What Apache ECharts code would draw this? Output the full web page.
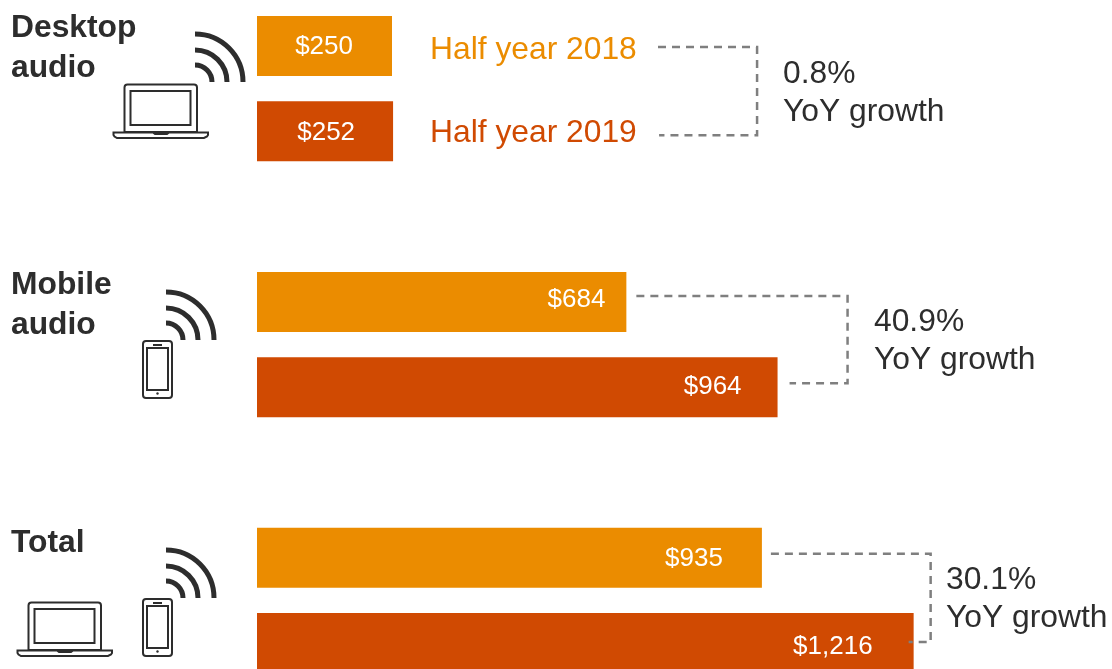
<!DOCTYPE html>
<html>
<head>
<meta charset="utf-8">
<style>html,body{margin:0;padding:0;background:#fff;overflow:hidden}#c{width:1112px;height:669px}</style>
<script src="https://cdn.jsdelivr.net/npm/echarts@6/dist/echarts.min.js"></script>
</head>
<body>
<div id="c"></div>
<script>
// ---------- data ----------
const categories = ['Desktop audio 2018', 'Desktop audio 2019', '', 'Mobile audio 2018', 'Mobile audio 2019', ' ', 'Total 2018', 'Total 2019'];
const values2018 = [250, null, null, 684, null, null, 935, null];
const values2019 = [null, 252, null, null, 964, null, null, 1216];
const seriesNames = ['Half year 2018', 'Half year 2019'];
const growthLabels = ['0.8%', '40.9%', '30.1%'];
const growthCaption = 'YoY growth';
const groupTitles = [['Desktop', 'audio'], ['Mobile', 'audio'], ['Total']];

// ---------- layout & style (pixels, separate from data) ----------
const ORANGE = '#EB8C00', RED = '#D04A02', INK = '#2D2D2D', DASH = '#7F7F7F';
const FONT = '"Liberation Sans", Arial, sans-serif';
const barLabelDistance = {0: 39, 1: 38, 3: 21, 4: 36, 6: 39, 7: 41};
const barLabelShift = {0: 1, 1: 2, 3: -2, 4: 0, 6: 1, 7: 4};
const connectors = [
  {rows: [0, 1], gaps: [266, 266], dy: [1, 4], bracket: 364},
  {rows: [3, 4], gaps: [10, 12], dy: [-6, -4], bracket: 70},
  {rows: [6, 7], gaps: [9, -5], dy: [-4, -1], bracket: 17}
];
const titleSpots = [[11, 28], [11, 285], [11, 543]];
const growthSpots = [[783, 74], [874, 322], [946, 580]];
const wifiSpots = [[195, 82], [166, 340], [166, 598]];
const laptopSpots = [[0, 0], [-96, 518]];
const phoneSpots = [[0, 0], [0, 258]];

function barData(values) {
  return values.map((v, i) => v === null ? null : ({
    value: v,
    label: {
      show: true,
      position: 'insideRight',
      distance: barLabelDistance[i],
      offset: [0, barLabelShift[i]],
      formatter: '$' + v.toLocaleString('en-US'),
      color: '#fff',
      fontSize: 26,
      fontFamily: FONT
    }
  }));
}

const text = (x, y, t, color, bold) => ({
  type: 'text', silent: true,
  style: {x, y, text: t, fill: color, fontFamily: FONT, fontSize: 31.8,
    fontWeight: bold ? 'bold' : 'normal', align: 'left', verticalAlign: 'middle'}
});
const line = {stroke: INK, lineWidth: 2, fill: 'none'};
const graphics = [];

// headings
groupTitles.forEach((lines, g) => lines.forEach((t, i) =>
  graphics.push(text(titleSpots[g][0], titleSpots[g][1] + i * 40, t, INK, true))));
// legend texts
graphics.push(text(430, 50, seriesNames[0], ORANGE));
graphics.push(text(430, 133, seriesNames[1], RED));
// growth notes
growthLabels.forEach((t, g) => {
  graphics.push(text(growthSpots[g][0], growthSpots[g][1], t, INK));
  graphics.push(text(growthSpots[g][0], growthSpots[g][1] + 38.5, growthCaption, INK));
});
// wifi arcs
wifiSpots.forEach(([cx, cy]) => [48, 32, 17].forEach(r => graphics.push({
  type: 'arc', silent: true,
  shape: {cx, cy, r, startAngle: -Math.PI / 2, endAngle: 0, clockwise: true},
  style: {stroke: INK, lineWidth: 5, fill: 'none', lineCap: 'butt'}
})));
// laptops
laptopSpots.forEach(([dx, dy]) => {
  graphics.push({type: 'rect', silent: true, style: line, shape: {x: 124.5 + dx, y: 84.5 + dy, width: 72.5, height: 47.5, r: [3, 3, 0, 0]}});
  graphics.push({type: 'rect', silent: true, style: line, shape: {x: 130.5 + dx, y: 91 + dy, width: 60, height: 34}});
  const pts = [[113.5, 132.5], [153, 132.5], [155, 134], [167, 134], [169, 132.5], [208, 132.5], [208, 135], [207, 136.5], [204, 138], [117, 138], [114.5, 136.5], [113.5, 135]];
  graphics.push({type: 'polygon', silent: true, style: line, shape: {points: pts.map(p => [p[0] + dx, p[1] + dy])}});
});
// phones
phoneSpots.forEach(([dx, dy]) => {
  graphics.push({type: 'rect', silent: true, style: line, shape: {x: 143 + dx, y: 341 + dy, width: 29, height: 57, r: 3}});
  graphics.push({type: 'rect', silent: true, style: line, shape: {x: 147 + dx, y: 348 + dy, width: 21, height: 42}});
  graphics.push({type: 'line', silent: true, style: {stroke: INK, lineWidth: 2}, shape: {x1: 153 + dx, y1: 345 + dy, x2: 162 + dx, y2: 345 + dy}});
  graphics.push({type: 'circle', silent: true, style: {fill: INK}, shape: {cx: 157.5 + dx, cy: 393.5 + dy, r: 1.2}});
});

const option = {
  animation: false,
  backgroundColor: '#fff',
  grid: {left: 257, top: 3.35, width: 864, height: 682.4, outerBoundsMode: 'none'},
  xAxis: {type: 'value', min: 0, max: 1600, show: false},
  yAxis: {type: 'category', inverse: true, data: categories, show: false},
  graphic: graphics,
  series: [
    {name: seriesNames[0], type: 'bar', barWidth: 60, barGap: '-100%', itemStyle: {color: ORANGE}, data: barData(values2018), silent: true},
    {name: seriesNames[1], type: 'bar', barWidth: 60, barGap: '-100%', itemStyle: {color: RED}, data: barData(values2019), silent: true},
    {
      type: 'custom', silent: true, z: 5,
      coordinateSystem: 'cartesian2d',
      data: connectors.map((c, i) => [i]),
      renderItem: (params, api) => {
        const c = connectors[api.value(0)];
        const v0 = values2018[c.rows[0]], v1 = values2019[c.rows[1]];
        const a = api.coord([v0, c.rows[0]]), b = api.coord([v1, c.rows[1]]);
        const xb = b[0] + c.bracket;
        return {
          type: 'polyline',
          shape: {points: [[a[0] + c.gaps[0], a[1] + c.dy[0]], [xb, a[1] + c.dy[0]], [xb, b[1] + c.dy[1]], [b[0] + c.gaps[1], b[1] + c.dy[1]]]},
          style: {stroke: DASH, lineWidth: 2.5, fill: 'none', lineDash: [8, 6]}
        };
      }
    }
  ]
};
echarts.init(document.getElementById('c'), null, {renderer: 'canvas'}).setOption(option);
</script>
</body>
</html>
